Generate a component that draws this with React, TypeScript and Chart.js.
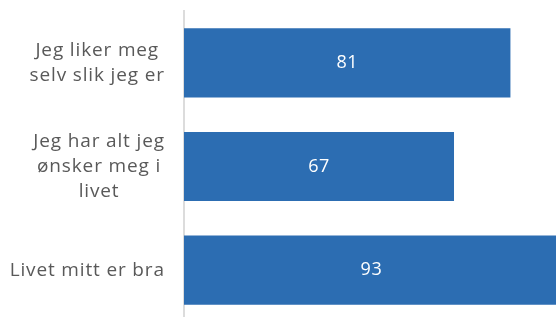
import React, { useEffect, useRef } from "react";
import { Chart, registerables } from "chart.js";

Chart.register(...registerables);

const categories: string[][] = [
  ["Jeg liker meg", "selv slik jeg er"],
  ["Jeg har alt jeg", "ønsker meg i", "livet"],
  ["Livet mitt er bra"],
];
const values: number[] = [81, 67, 93];
const axisMax = 100;

const FONT = "'Open Sans', Inter, sans-serif";
const BAR_COLOR = "#2c6db2";
const LABEL_COLOR = "#595959";

const labelsPlugin = {
  id: "customLabels",
  afterDatasetsDraw(chart: any) {
    const ctx = chart.ctx;
    const yScale = chart.scales.y;
    const area = chart.chartArea;
    ctx.save();
    ctx.font = `19px ${FONT}`;
    ctx.letterSpacing = "0.85px";
    ctx.fillStyle = LABEL_COLOR;
    ctx.textAlign = "center";
    ctx.textBaseline = "middle";
    const lh = 25;
    categories.forEach((lines, i) => {
      const cy = yScale.getPixelForTick(i);
      const w = Math.max(...lines.map((l) => ctx.measureText(l).width));
      const cx = area.left - 20 - w / 2 + 0.85;
      const start = cy - ((lines.length - 1) * lh) / 2;
      lines.forEach((l, j) => ctx.fillText(l, cx, start + j * lh));
    });
    ctx.font = `18px ${FONT}`;
    ctx.letterSpacing = "0.5px";
    ctx.fillStyle = "#ffffff";
    const meta = chart.getDatasetMeta(0);
    meta.data.forEach((bar: any, i: number) => {
      const x = (bar.base + bar.x) / 2;
      ctx.fillText(String(values[i]), x, bar.y);
    });
    ctx.restore();
  },
};

export default function App() {
  const ref = useRef<HTMLCanvasElement | null>(null);
  useEffect(() => {
    if (!ref.current) return;
    const chart = new Chart(ref.current, {
      type: "bar",
      data: {
        labels: categories.map((c) => c.join(" ")),
        datasets: [
          {
            data: values,
            backgroundColor: BAR_COLOR,
            borderWidth: 0,
            categoryPercentage: 1,
            barPercentage: 0.667,
          },
        ],
      },
      options: {
        indexAxis: "y",
        animation: false,
        responsive: false,
        maintainAspectRatio: false,
        layout: { padding: { top: 11, bottom: 8, left: 0, right: 0 } },
        plugins: {
          legend: { display: false },
          tooltip: { enabled: false },
        },
        scales: {
          x: {
            display: false,
            min: 0,
            max: axisMax,
          },
          y: {
            afterFit: (scale: any) => {
              scale.width = 184;
            },
            grid: { display: false, drawTicks: false },
            border: { display: true, color: "#dcdcdc", width: 2 },
            ticks: { display: false },
          },
        },
      },
      plugins: [labelsPlugin],
    });
    return () => chart.destroy();
  }, []);
  return (
    <div style={{ position: "absolute", left: 0, top: 0, width: 587, height: 330 }}>
      <canvas ref={ref} width={587} height={330} style={{ width: 587, height: 330 }} />
    </div>
  );
}
